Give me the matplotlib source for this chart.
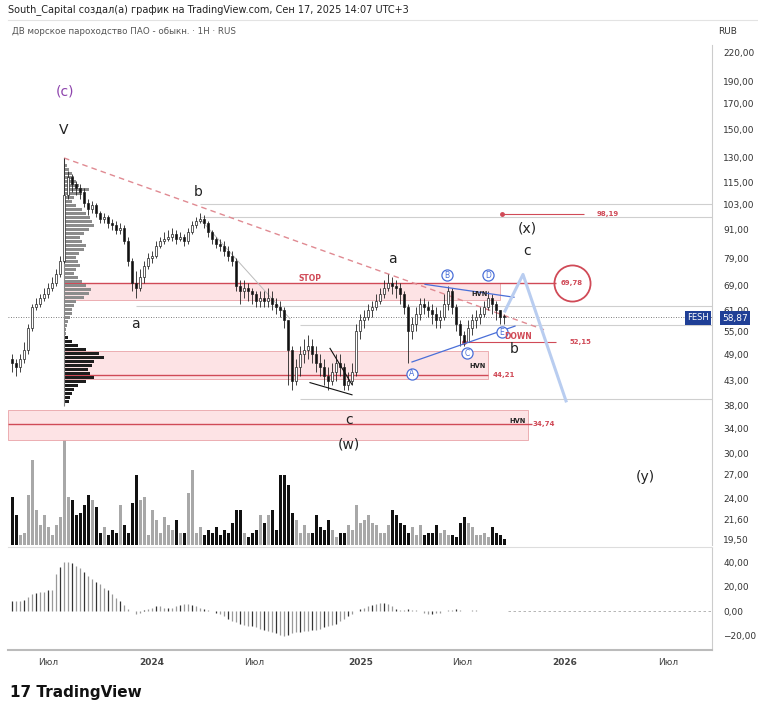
import matplotlib
matplotlib.use("Agg")
import matplotlib.pyplot as plt
from matplotlib.patches import Rectangle, Circle, Ellipse
import numpy as np

plt.rcParams["font.family"] = ["DejaVu Sans"]

# weekly candles, index 0 = late Apr 2023
closes = [47, 46, 48, 50, 56, 62, 63, 65, 66, 68,
          70, 73, 78, 108, 118, 114, 112, 110, 104, 101,
          103, 99, 96, 97, 94, 93, 91, 92, 86, 78,
          70, 68, 72, 76, 79, 80, 84, 86, 87, 88,
          89, 87, 88, 86, 90, 93, 95, 96, 94, 90,
          87, 85, 84, 82, 80, 78, 69, 67, 68, 67,
          66, 64, 65, 64, 65, 63, 62, 61, 58, 50,
          43, 46, 49, 50, 51, 49, 47, 46, 44, 43,
          45, 47, 46, 42, 43, 45, 55, 58, 59, 61,
          62, 64, 66, 68, 70, 69, 68, 66, 62, 55,
          57, 60, 63, 62, 61, 60, 58, 59, 63, 67,
          62, 57, 54, 52, 56, 58, 59, 60, 62, 65,
          63, 61, 59, 58.87]
highs = [49, 48, 49, 52, 57, 63, 65, 66, 68, 70,
         72, 75, 80, 130, 122, 120, 116, 114, 112, 106,
         105, 104, 100, 99, 98, 96, 95, 94, 93, 88,
         79, 74, 75, 78, 81, 82, 86, 88, 90, 91,
         92, 91, 90, 89, 92, 95, 97, 99, 98, 95,
         91, 88, 87, 86, 84, 82, 79, 71, 71, 70,
         68, 67, 67, 67, 68, 67, 65, 64, 62, 58,
         51, 48, 51, 53, 54, 53, 51, 49, 48, 46,
         47, 49, 49, 47, 45, 47, 57, 60, 61, 63,
         64, 66, 68, 71, 73, 72, 71, 70, 67, 63,
         59, 62, 65, 65, 64, 63, 62, 61, 66, 69,
         68, 63, 58, 55, 58, 60, 61, 62, 64, 67,
         66, 64, 61, 60]
lows = [45, 44, 45, 47, 49, 55, 61, 62, 64, 65,
        67, 69, 72, 77, 106, 110, 108, 106, 102, 98,
        99, 97, 94, 94, 92, 91, 89, 89, 85, 76,
        67, 65, 67, 70, 75, 77, 79, 83, 85, 86,
        86, 85, 86, 84, 85, 89, 92, 94, 92, 88,
        85, 83, 82, 80, 78, 76, 67, 63, 65, 64,
        63, 62, 62, 62, 62, 61, 60, 59, 56, 42,
        41, 42, 44, 47, 48, 47, 45, 44, 42, 41,
        42, 43, 44, 41, 41, 42, 44, 53, 56, 58,
        59, 61, 63, 65, 67, 66, 65, 63, 60, 47,
        53, 55, 58, 60, 59, 57, 56, 56, 58, 61,
        60, 55, 51, 51, 52, 54, 56, 57, 59, 61,
        60, 58, 57, 57]
first_open = 48
volume = [48, 30, 10, 12, 50, 85, 35, 20, 30, 18,
          10, 20, 28, 132, 48, 45, 30, 32, 40, 50,
          45, 38, 12, 18, 10, 15, 12, 40, 20, 12,
          42, 70, 45, 48, 10, 35, 25, 12, 28, 20,
          15, 25, 12, 12, 52, 75, 12, 18, 10, 15,
          12, 18, 10, 15, 12, 22, 35, 35, 12, 8,
          12, 15, 30, 22, 30, 35, 15, 70, 70, 60,
          32, 25, 12, 20, 12, 12, 30, 18, 15, 25,
          15, 8, 12, 12, 20, 15, 40, 22, 25, 30,
          22, 20, 12, 12, 20, 35, 30, 22, 20, 12,
          18, 10, 20, 10, 12, 12, 20, 12, 15, 10,
          10, 8, 22, 28, 22, 18, 10, 10, 12, 8,
          18, 12, 10, 6]
osc = [8, 8, 8, 9, 12, 14, 15, 16, 16, 17,
       17, 30, 36, 40, 40, 39, 37, 35, 32, 29,
       26, 24, 22, 19, 17, 14, 11, 8, 5, 2,
       0, -2, -1, 1, 2, 3, 4, 4, 3, 3,
       3, 4, 5, 6, 6, 5, 4, 3, 2, 1,
       0, -1, -2, -4, -6, -8, -9, -10, -11, -12,
       -12, -13, -14, -15, -16, -17, -18, -19, -20, -19,
       -18, -17, -17, -16, -16, -15, -15, -14, -13, -12,
       -11, -10, -8, -6, -4, -2, 0, 2, 3, 4,
       5, 6, 7, 7, 6, 4, 2, 1, 1, 2,
       1, 1, 0, -1, -2, -2, -1, -1, 0, 1,
       1, 2, 1, 0, 0, 1, 1, 0, 0, 0,
       0, 0, 0, 0]
# volume profile (left), lengths in candle units, top to bottom
profile_len = [3, 5, 8, 10, 12, 15, 25, 18, 10, 8, 12, 18, 22, 26, 28, 30, 25, 20, 16, 18,
               22, 20, 15, 12, 14, 16, 12, 10, 14, 18, 22, 27, 25, 20, 12, 10, 8, 8, 6, 4,
               3, 2, 2, 4, 8, 14, 22, 35, 40, 30, 28, 24, 26, 30, 22, 14, 10, 8, 6, 5]
price_ticks = [220, 190, 170, 150, 130, 115, 103, 91, 79, 69, 61, 55, 49, 43, 38, 34, 30, 27, 24, 21.6, 19.5]
date_ticks = [9, 35, 60.5, 87.25, 112.5, 138.25, 164]
date_labels = ["Июл", "2024", "Июл", "2025", "Июл", "2026", "Июл"]
last_price = 58.87

W, H = 758, 715
fig = plt.figure(figsize=(W / 100, H / 100), dpi=100)


def fr(x0, y0, x1, y1):
    return [x0 / W, 1 - y1 / H, (x1 - x0) / W, (y1 - y0) / H]


ax = fig.add_axes(fr(8, 45, 712, 545))
axv = ax.twinx()
axo = fig.add_axes(fr(8, 548, 712, 650), sharex=ax)

n = len(closes)
idx = np.arange(n)
opens = [first_open] + closes[:-1]
up = [c >= o for o, c in zip(opens, closes)]

# volume (behind)
axv.bar(idx, volume, width=0.75, color=["#a8a8a8" if u else "#111111" for u in up], zorder=1)
axv.set_ylim(0, 500)
axv.axis("off")
ax.set_zorder(axv.get_zorder() + 1)
ax.patch.set_visible(False)

ax.set_yscale("log")
ax.set_ylim(19.02, 227.8)
ax.set_xlim(-1, 175)

# zones
def zone(x0, x1, lo, hi, ec="#e9a3a8"):
    ax.add_patch(Rectangle((x0, lo), x1 - x0, hi - lo, facecolor="#fde3e5", edgecolor=ec, lw=0.6, zorder=1))

zone(13, 122, 64.3, 69.78)
zone(13, 119, 43.4, 49.8)
zone(-1, 129, 32.1, 37.1)

red = "#d04a57"
ax.hlines(69.78, 13, 136, color=red, lw=1.0, zorder=2)
ax.hlines(44.21, 13, 119, color=red, lw=1.0, zorder=2)
ax.hlines(34.74, -1, 130, color=red, lw=1.0, zorder=2)
ax.hlines(98.19, 122.5, 143, color=red, lw=0.8, zorder=2)
ax.plot([122.5], [98.19], "o", color=red, ms=2.5)
ax.hlines(52.15, 113, 136, color=red, lw=0.8, zorder=2)
ax.plot([113], [52.15], "o", color=red, ms=2.5)

grey = "#cfcfcf"
for y, x0 in [(103.5, 47), (97, 47), (62.3, 31), (56.6, 72), (39.3, 72)]:
    ax.hlines(y, x0, 175, color=grey, lw=0.8, zorder=1)
ax.axhline(last_price, color="#555555", lw=0.6, ls=(0, (1, 2)), zorder=2)

# volume profile
prof_prices = np.geomspace(125.4, 38.8, len(profile_len))
for i, (p, L) in enumerate(zip(prof_prices, profile_len)):
    col = "#8c8c8c" if i < 43 else "#1e1e1e"
    ax.add_patch(Rectangle((13, p * 0.992), L / 4, p * 0.016, facecolor=col, edgecolor="none", zorder=3))
ax.vlines(13, 38, 130, color="#888888", lw=0.8, zorder=3)

# candles
for i in range(n):
    o, c = opens[i], closes[i]
    ax.vlines(i, lows[i], highs[i], color="#222222", lw=0.6, zorder=4)
    ax.add_patch(Rectangle((i - 0.35, min(o, c)), 0.7, max(abs(c - o), 0.3),
                           facecolor="white" if up[i] else "#111111", edgecolor="#222222", lw=0.5, zorder=5))

# trend lines
ax.plot([13, 133], [130, 55.4], color="#e08a92", ls=(0, (4, 3)), lw=1.0, zorder=3)
ax.plot([47, 69.5], [96, 58.5], color="#bbbbbb", lw=0.7, zorder=3)
ax.plot([74.5, 85], [42.6, 40.1], color="#111111", lw=0.8, zorder=6)
ax.plot([79.5, 85], [50.5, 42.2], color="#111111", lw=0.8, zorder=6)
blue = "#4a6fd8"
ax.plot([100, 125.75], [47.2, 56.4], color=blue, lw=0.9, zorder=6)
ax.plot([103.25, 125.5], [69.4, 65.1], color=blue, lw=0.9, zorder=6)
ax.plot([123.25, 127.75, 138.5], [60.8, 72.9, 38.9], color="#b9cdf0", lw=2.2, zorder=6)

for lab, x, y in [("A", 100, 44.5), ("B", 108.75, 72.6), ("C", 113.75, 49.3), ("D", 119, 72.6), ("E", 122.5, 54.7)]:
    ax.plot([x], [y], "o", ms=8, mfc="white", mec=blue, mew=0.9, zorder=7)
    ax.text(x, y, lab, color=blue, fontsize=5.5, ha="center", va="center", zorder=8)

ax.text(74.5, 71.5, "STOP", color=red, fontsize=5.5, weight="bold", ha="center", va="center")
ax.text(117, 66.2, "HVN", color="#222222", fontsize=4.8, weight="bold", ha="center", va="center", zorder=8)
ax.text(116.5, 46.3, "HVN", color="#222222", fontsize=4.8, weight="bold", ha="center", va="center", zorder=8)
ax.text(126.5, 34.74, "HVN", color="#222222", fontsize=4.8, weight="bold", ha="center", va="bottom")
ax.text(126.5, 53.5, "DOWN", color=red, fontsize=5.5, weight="bold", ha="center", va="center", zorder=8)
for s, x, y in [("69,78", 140, 69.78), ("44,21", 123, 44.21), ("34,74", 133, 34.74),
                ("98,19", 149, 98.19), ("52,15", 142, 52.15)]:
    ax.text(x, y, s, color=red, fontsize=5, weight="bold", ha="center", va="center")
ax.add_patch(Ellipse((140, 69.78), 7, 0.125, transform=ax.get_xaxis_transform() if False else ax.transData,
                     fill=False, edgecolor=red, lw=1.3)) if False else None
ax.plot([140], [69.78], "o", ms=26, mfc="none", mec=red, mew=1.3)

for s, x, y, c in [("(c)", 13.25, 181, "#8e44ad"), ("V", 13, 149, "#222222"), ("b", 46.5, 110, "#222222"),
                   ("a", 30.75, 56.9, "#222222"), ("a", 95, 78.9, "#222222"), ("c", 84.25, 35.3, "#222222"),
                   ("(w)", 84.25, 31.4, "#222222"), ("(x)", 128.75, 91.5, "#222222"),
                   ("c", 128.75, 81.8, "#222222"), ("b", 125.5, 50.4, "#222222"), ("(y)", 158.25, 26.6, "#222222")]:
    ax.text(x, y, s, color=c, fontsize=10, ha="center", va="center", zorder=8)

# price axis
ax.yaxis.tick_right()
ax.minorticks_off()
ax.set_yticks(price_ticks)
ax.set_yticklabels([f"{t:.2f}".replace(".", ",") for t in price_ticks], fontsize=6.5, color="#333333")
ax.tick_params(axis="y", length=0, pad=8)
ax.tick_params(axis="x", bottom=False, labelbottom=False)
for s in ["top", "left", "bottom"]:
    ax.spines[s].set_visible(False)
ax.spines["right"].set_color("#cccccc")

# current price tags
fig.text(698 / W, 1 - 318 / H, "FESH", fontsize=6, color="white", ha="center", va="center",
         bbox=dict(boxstyle="square,pad=0.25", fc="#1f3f96", ec="none"))
fig.text(735 / W, 1 - 318 / H, "58,87", fontsize=6.5, color="white", ha="center", va="center",
         bbox=dict(boxstyle="square,pad=0.25", fc="#1f3f96", ec="none"))

# oscillator
axo.vlines(idx, 0, osc, color=["#999999" if i % 3 else "#333333" for i in range(n)], lw=0.9)
axo.hlines(0, n, 175, color="#aaaaaa", lw=0.6, ls=(0, (3, 3)))
axo.set_ylim(-31.4, 51.4)
axo.yaxis.tick_right()
axo.set_yticks([40, 20, 0, -20])
axo.set_yticklabels(["40,00", "20,00", "0,00", "\u221220,00"], fontsize=6.5, color="#333333")
axo.tick_params(axis="y", length=0, pad=8)
axo.set_xticks(date_ticks)
axo.set_xticklabels(date_labels, fontsize=6.5, color="#444444")
for lab in axo.get_xticklabels():
    if lab.get_text().isdigit():
        lab.set_fontweight("bold")
axo.tick_params(axis="x", length=0, pad=6)
for s in ["top", "left"]:
    axo.spines[s].set_visible(False)
axo.spines["bottom"].set_color("#bbbbbb")
axo.spines["bottom"].set_linewidth(1.5)
axo.spines["right"].set_color("#cccccc")
fig.add_artist(plt.Line2D([8 / W, 712 / W], [1 - 547 / H] * 2, color="#dddddd", lw=0.8))

# header / footer
fig.text(8 / W, 1 - 10 / H, "South_Capital создал(а) график на TradingView.com, Сен 17, 2025 14:07 UTC+3",
         fontsize=7, color="#222222", va="center")
fig.text(12 / W, 1 - 31 / H, "ДВ морское пароходство ПАО - обыкн. · 1H · RUS", fontsize=6.3,
         color="#555555", va="center")
fig.text(728 / W, 1 - 31 / H, "RUB", fontsize=6.5, color="#333333", va="center", ha="center")
fig.add_artist(plt.Line2D([8 / W, 757 / W], [1 - 20 / H] * 2, color="#e3e3e3", lw=0.8))
fig.text(10 / W, 1 - 692 / H, "17 TradingView", fontsize=11, weight="bold", color="#111111", va="center")

fig.savefig("out.png", dpi=100)
